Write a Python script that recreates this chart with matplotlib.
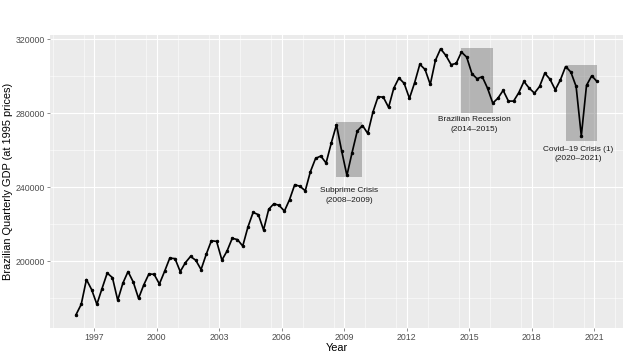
import numpy as np
import pandas as pd
from matplotlib import pyplot as plt
from matplotlib.patches import Rectangle
from matplotlib.ticker import MultipleLocator

plt.rcParams['font.family'] = ['Liberation Sans', 'DejaVu Sans']

# Quarterly GDP, 1996Q1 .. 2021Q1
quarters = pd.period_range('1996Q1', '2021Q1', freq='Q')
gdp = [171000, 176600, 190000, 184500, 176600, 185100, 193500, 191000,
       178800, 188000, 194300, 188600, 179800, 187000, 193000, 192800,
       187600, 194400, 201600, 201300, 194300, 199100, 202500, 200400,
       195400, 203600, 211000, 210600, 200500, 205400, 212300, 211600,
       208100, 218400, 226300, 225100, 216800, 228000, 231000, 230100,
       227000, 233200, 241300, 240400, 238000, 248300, 255500, 256800,
       253000, 263800, 273700, 259400, 246300, 258600, 270300, 273300,
       269000, 280500, 288900, 288600, 283100, 293400, 299000, 296100,
       288000, 296400, 306400, 303600, 295500, 308500, 314800, 311200,
       306200, 306900, 313000, 310300, 301300, 298600, 299700, 293500,
       285400, 288100, 292300, 286500, 286500, 291000, 297100, 293500,
       290800, 294400, 301600, 298300, 292600, 298000, 305200, 302200,
       294400, 267600, 295000, 300200, 297100]

# crisis windows: first / last quarter and vertical extent of the shaded box
crisis_start = ['2008Q3', '2014Q3', '2019Q3']
crisis_end = ['2009Q4', '2016Q1', '2021Q1']
crisis_low = [245400, 280000, 265100]
crisis_high = [275300, 315300, 306200]
crisis_labels = ['Subprime Crisis\n(2008\u20132009)',
                 'Brazilian Recession\n(2014\u20132015)',
                 'Covid\u201319 Crisis (1)\n(2020\u20132021)']
label_x = [2009.25, 2015.25, 2020.23]
label_y = [235500, 273900, 258000]


def to_year(p):
    # mid-quarter date as decimal year
    d = p.start_time + pd.Timedelta(days=45)
    return d.year + (d.dayofyear - 1) / 365.25


x = np.array([to_year(q) for q in quarters])

fig = plt.figure(figsize=(626 / 72, 356 / 72), dpi=72)
ax = fig.add_axes([50 / 626, 1 - 328 / 356, 573 / 626, 293.5 / 356])
ax.set_facecolor('#EBEBEB')
for s in ax.spines.values():
    s.set_visible(False)

for a, b, lo, hi in zip(crisis_start, crisis_end, crisis_low, crisis_high):
    x0 = to_year(pd.Period(a, freq='Q'))
    x1 = to_year(pd.Period(b, freq='Q'))
    ax.add_patch(Rectangle((x0, lo), x1 - x0, hi - lo, facecolor='#7f7f7f',
                           alpha=0.5, edgecolor='none', zorder=1))

ax.plot(x, gdp, color='black', lw=1.7, zorder=3)
ax.scatter(x, gdp, color='black', s=6, zorder=4)

for lab, lx, ly in zip(crisis_labels, label_x, label_y):
    ax.text(lx, ly, lab, ha='center', va='center', fontsize=8.3,
            color='#1a1a1a', linespacing=1.45, zorder=5)

ax.margins(x=0.05, y=0.05)
ax.set_xticks(range(1997, 2022, 3))
ax.xaxis.set_minor_locator(MultipleLocator(1.5))
ax.set_yticks([200000, 240000, 280000, 320000])
ax.yaxis.set_minor_locator(MultipleLocator(20000))
ax.grid(which='major', color='white', lw=1.1)
ax.grid(which='minor', color='white', lw=0.55)
ax.set_axisbelow(True)
ax.tick_params(which='major', length=2.75, width=0.55, color='#333333',
               labelsize=8.8, labelcolor='#4D4D4D', pad=2)
ax.tick_params(which='minor', length=0)

ax.set_xlabel('Year', fontsize=11, labelpad=1)
ax.set_ylabel('Brazilian Quarterly GDP (at 1995 prices)', fontsize=11, labelpad=3)

fig.savefig('out.png', dpi=72)
